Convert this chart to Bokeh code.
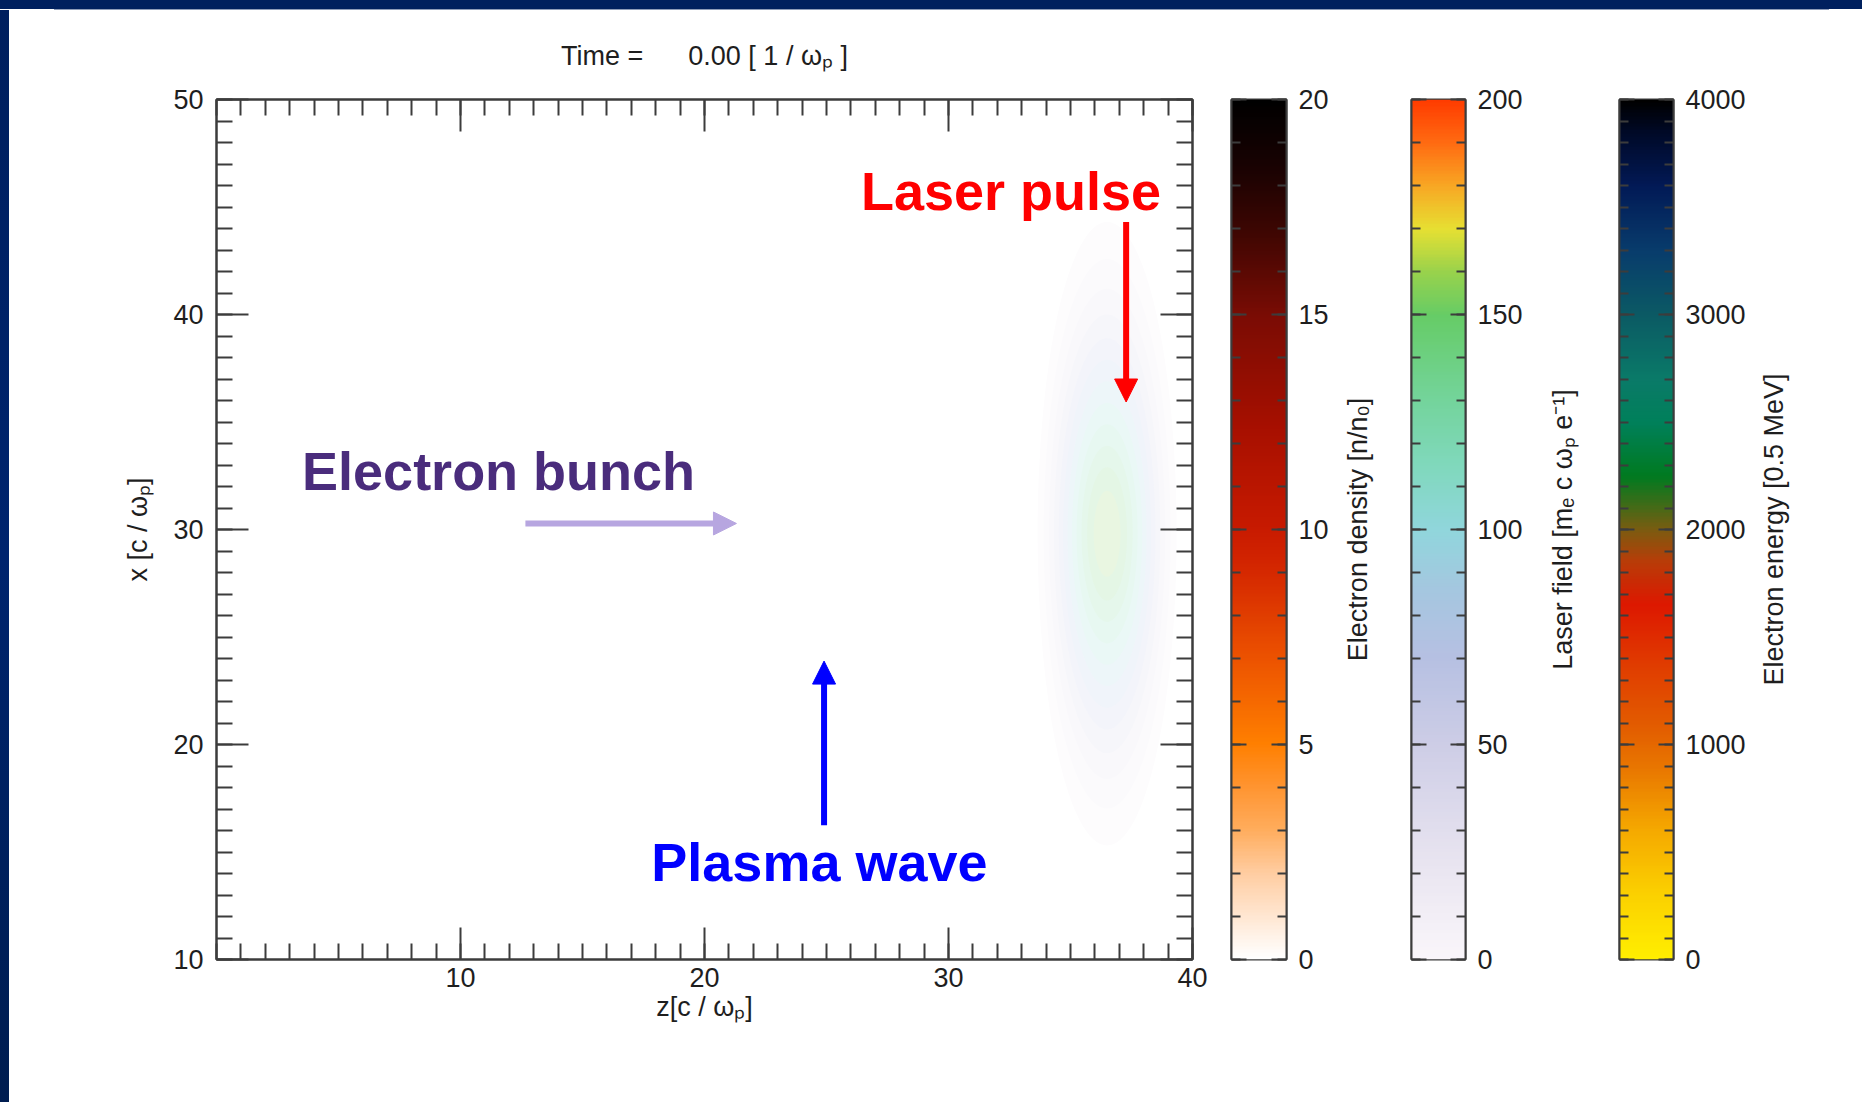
import numpy as np
from bokeh.plotting import figure
from bokeh.layouts import row, column
from bokeh.models import (LinearAxis, FixedTicker, Range1d, LinearColorMapper,
                          Arrow, NormalHead, ColumnDataSource, Div)
from bokeh.core.properties import value
from bokeh.embed import file_html
from bokeh.resources import INLINE

# ---------------------------------------------------------------- data
z_limits = (0, 40)
x_limits = (10, 50)
z_ticks = [10, 20, 30, 40]
x_ticks = [10, 20, 30, 40, 50]
time_value = 0.00

# colour scales, as (value, colour) anchor points
density_scale = [
    (0.0, "#ffffff"), (1.0, "#ffe6d0"), (2.0, "#ffcca0"), (3.0, "#ffac5c"),
    (4.0, "#ff9430"), (5.0, "#ff7f00"), (7.0, "#ec5200"), (9.0, "#d52800"),
    (10.0, "#c81a00"), (12.5, "#a50f00"), (15.0, "#7a0c04"), (17.0, "#3c0602"),
    (18.5, "#180202"), (20.0, "#000000"),
]
laser_scale = [
    (0, "#faf6fa"), (25, "#e6e2ef"), (50, "#cdcde6"), (70, "#b6c0e2"),
    (85, "#a6c6e0"), (100, "#90d6dc"), (115, "#80d8bc"), (130, "#74d49c"),
    (150, "#66cc66"), (160, "#98d24c"), (170, "#e6e032"), (180, "#f8a824"),
    (190, "#ff6c12"), (200, "#ff3c00"),
]
energy_scale = [
    (0, "#ffee00"), (300, "#fbd000"), (600, "#f5a800"), (900, "#e87400"),
    (1100, "#e25a00"), (1400, "#e03800"), (1650, "#dd1800"), (1850, "#b83c08"),
    (2000, "#7a5c10"), (2120, "#3c6c18"), (2250, "#007a20"), (2500, "#00805a"),
    (2700, "#0a7a68"), (3000, "#0b5a64"), (3300, "#083c6c"), (3600, "#021a56"),
    (3850, "#000a28"), (4000, "#000000"),
]

# laser pulse envelope: field level and half extents along z and x
pulse_z0 = 36.5
pulse_x0 = 29.8
pulse_level = [10, 22, 36, 50, 64, 78, 92, 106, 120, 134, 146, 156]
pulse_half_z = [2.85, 2.6, 2.38, 2.18, 1.98, 1.8, 1.62, 1.44, 1.25, 1.05, 0.82, 0.55]
pulse_half_x = [14.5, 12.8, 11.4, 10.2, 9.1, 8.1, 7.1, 6.1, 5.1, 4.1, 3.1, 2.0]
pulse_fade = 0.18

# annotations
label_text = ["Laser pulse", "Electron bunch", "Plasma wave"]
label_z = [32.56, 11.56, 24.71]
label_x = [45.74, 32.72, 14.53]
label_color = ["#ff0000", "#4a2c7c", "#0000ff"]

arrow_z0 = [37.28, 12.66, 24.90]
arrow_x0 = [44.30, 30.28, 16.25]
arrow_z1 = [37.28, 21.31, 24.90]
arrow_x1 = [35.93, 30.28, 23.88]
arrow_color = ["#ff0000", "#b7a6e0", "#0000ff"]

# ---------------------------------------------------------------- helpers
FONT = "Liberation Sans"
FS = "27px"
TXT = "#1e1e1e"
LINE = "#3c3c3c"
NAVY = "#00205e"
H = 1092          # height of the plotting row
TOP_B = 89        # border above every frame
FRAME_H = 860
BOT_B = H - TOP_B - FRAME_H


def hex2rgb(h):
    return tuple(int(h[i:i + 2], 16) for i in (1, 3, 5))


def rgb2hex(c):
    return "#%02x%02x%02x" % tuple(int(round(max(0, min(255, v)))) for v in c)


def sample(scale, v):
    vals = [s[0] for s in scale]
    cols = [hex2rgb(s[1]) for s in scale]
    return tuple(np.interp(v, vals, [c[k] for c in cols]) for k in range(3))


def palette(scale, n=256):
    lo, hi = scale[0][0], scale[-1][0]
    return [rgb2hex(sample(scale, lo + (hi - lo) * i / (n - 1))) for i in range(n)]


def faded(scale, v, a):
    c = sample(scale, v)
    return rgb2hex(tuple(255 - a * (255 - k) for k in c))


def style_axis(ax, major_in, minor_in, show_labels, ticks):
    ax.major_tick_in = major_in
    ax.major_tick_out = 0
    ax.minor_tick_in = minor_in
    ax.minor_tick_out = 0
    ax.axis_line_color = LINE
    ax.axis_line_width = 2
    ax.major_tick_line_color = LINE
    ax.major_tick_line_width = 2
    ax.minor_tick_line_color = LINE
    ax.minor_tick_line_width = 2
    ax.major_label_text_font = FONT
    ax.major_label_text_color = TXT
    ax.major_label_text_font_size = FS
    ax.axis_label_text_font = FONT
    ax.axis_label_text_color = TXT
    ax.axis_label_text_font_size = FS
    ax.axis_label_text_font_style = "normal"
    if not show_labels:
        ax.major_label_text_font_size = "0px"
        ax.major_label_overrides = {t: "" for t in ticks}
        ax.major_label_standoff = 0
    return ax


# ---------------------------------------------------------------- slide border
top_strip = Div(text="", width=1862, height=10, margin=0, styles={
    "background": "linear-gradient(to bottom, %s 0px, %s 9px, transparent 9px), "
                  "linear-gradient(to right, #ffffff 0px, #ffffff 54px, #8e9cb8 54px, "
                  "#8e9cb8 1829px, #ffffff 1829px)" % (NAVY, NAVY)})
left_strip = Div(text="", width=9, height=H, margin=0, styles={
    "background": "linear-gradient(to bottom, #001f5e, #00246e 50%, #001d50)"})

# ---------------------------------------------------------------- main panel
p = figure(width=1206, height=H, output_backend="svg", toolbar_location=None,
           x_range=Range1d(*z_limits), y_range=Range1d(*x_limits),
           x_axis_location=None, y_axis_location=None,
           min_border_left=207, min_border_right=23,
           min_border_top=TOP_B, min_border_bottom=BOT_B)
p.grid.visible = False
p.outline_line_color = LINE
p.outline_line_width = 2
p.background_fill_color = "white"
p.border_fill_color = "white"

z_ticker = FixedTicker(ticks=z_ticks, minor_ticks=list(range(z_limits[0], z_limits[1] + 1)))
x_ticker = FixedTicker(ticks=x_ticks, minor_ticks=list(range(x_limits[0], x_limits[1] + 1)))

bottom = style_axis(LinearAxis(ticker=z_ticker), 32, 16, True, z_ticks)
bottom.axis_label = "z[c / ω\u209a]"
bottom.major_label_standoff = 8
bottom.axis_label_standoff = 2
left = style_axis(LinearAxis(ticker=x_ticker), 32, 16, True, x_ticks)
left.axis_label = "x [c / ω\u209a]"
left.major_label_standoff = 13
left.axis_label_standoff = 17
# the upper axis carries the time stamp as its label
nb = "\u00a0"
top = style_axis(LinearAxis(ticker=z_ticker), 32, 16, False, z_ticks)
top.axis_label = "Time =" + nb * 6 + "%.2f [ 1 / ω\u209a ]" % time_value
top.axis_label_standoff = 29
right = style_axis(LinearAxis(ticker=x_ticker), 32, 16, False, x_ticks)
p.add_layout(bottom, "below")
p.add_layout(left, "left")
p.add_layout(top, "above")
p.add_layout(right, "right")

# laser pulse envelope, outer level first
pulse = ColumnDataSource(dict(
    z=[pulse_z0] * len(pulse_level),
    x=[pulse_x0] * len(pulse_level),
    w=[2 * h for h in pulse_half_z],
    h=[2 * h for h in pulse_half_x],
    c=[faded(laser_scale, lv, pulse_fade) for lv in pulse_level],
))
p.ellipse(x="z", y="x", width="w", height="h", fill_color="c", line_color=None, source=pulse)

for z0, x0, z1, x1, c in zip(arrow_z0, arrow_x0, arrow_z1, arrow_x1, arrow_color):
    p.add_layout(Arrow(x_start=z0, y_start=x0, x_end=z1, y_end=x1,
                       line_color=c, line_width=6,
                       end=NormalHead(size=23, fill_color=c, line_color=c)))

labels = ColumnDataSource(dict(z=label_z, x=label_x, t=label_text, c=label_color))
p.text(x="z", y="x", text="t", text_color="c", source=labels,
       text_font=value(FONT), text_font_style="bold", text_font_size="54px",
       text_align="center", text_baseline="alphabetic")


# ---------------------------------------------------------------- colour bars
# Each bar's caption sits on the left axis of the panel that follows it,
# so that it reads upwards and is centred on the bar.
def colorbar(scale, majors, minors, width, border_left, border_right,
             prev_title=None, prev_title_standoff=0):
    lo, hi = scale[0][0], scale[-1][0]
    f = figure(width=width, height=H, output_backend="svg", toolbar_location=None,
               x_range=Range1d(0, 1), y_range=Range1d(lo, hi),
               x_axis_location=None, y_axis_location=None,
               min_border_left=border_left, min_border_right=border_right,
               min_border_top=TOP_B, min_border_bottom=BOT_B)
    f.grid.visible = False
    f.outline_line_color = LINE
    f.outline_line_width = 2
    f.border_fill_color = "white"
    mapper = LinearColorMapper(palette=palette(scale), low=lo, high=hi)
    ramp = np.linspace(lo, hi, 256).reshape(256, 1)
    f.image(image=[ramp], x=0, y=lo, dw=1, dh=hi - lo, color_mapper=mapper)
    ticker = FixedTicker(ticks=majors, minor_ticks=minors)
    ax_r = style_axis(LinearAxis(ticker=ticker), 15, 9, True, majors)
    ax_r.major_label_standoff = 12
    ax_l = style_axis(LinearAxis(ticker=ticker), 15, 9, False, majors)
    if prev_title:
        ax_l.axis_label = prev_title
        ax_l.axis_label_standoff = prev_title_standoff
    f.add_layout(ax_l, "left")
    f.add_layout(ax_r, "right")
    return f


density_title = "Electron density [n/n\u2080]"
laser_title = "Laser field [m\u2091 c ω\u209a e\u207b\u00b9]"
energy_title = "Electron energy [0.5 MeV]"

cb_density = colorbar(density_scale, [0, 5, 10, 15, 20], list(range(0, 21)),
                      120, 16, 49)
cb_laser = colorbar(laser_scale, [0, 50, 100, 150, 200], list(range(0, 201, 10)),
                    195, 76, 65, density_title, 39)
cb_energy = colorbar(energy_scale, [0, 1000, 2000, 3000, 4000], list(range(0, 4001, 100)),
                     220, 89, 77, laser_title, 42)

# blank panel on the far right that holds the last caption
tail = figure(width=112, height=H, output_backend="svg", toolbar_location=None,
              x_range=Range1d(0, 1), y_range=Range1d(0, 1),
              x_axis_location=None, y_axis_location=None,
              min_border_left=60, min_border_right=0,
              min_border_top=TOP_B, min_border_bottom=BOT_B)
tail.grid.visible = False
tail.outline_line_color = None
tail.border_fill_color = "white"
tail_ax = style_axis(LinearAxis(ticker=FixedTicker(ticks=[])), 0, 0, False, [])
tail_ax.axis_line_color = None
tail_ax.major_tick_line_color = None
tail_ax.minor_tick_line_color = None
tail_ax.axis_label = energy_title
tail_ax.axis_label_standoff = 22
tail.add_layout(tail_ax, "left")

page = column(top_strip, row(left_strip, p, cb_density, cb_laser, cb_energy, tail))

with open("out.html", "w") as fh:
    fh.write(file_html(page, INLINE))
